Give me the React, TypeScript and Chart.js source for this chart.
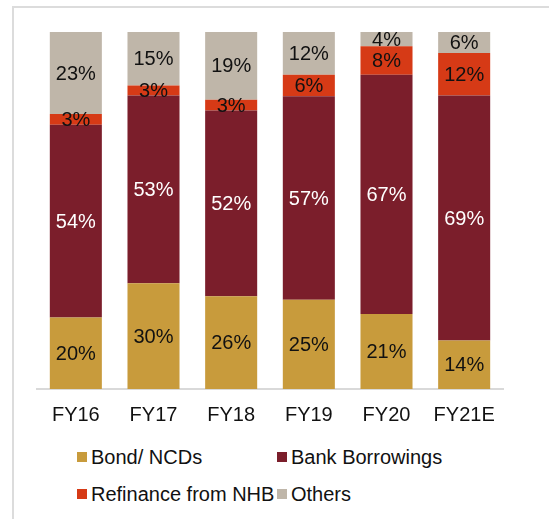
import React, { useEffect, useRef } from "react";
import { Chart, registerables } from "chart.js";

Chart.register(...registerables);

const categories = ["FY16", "FY17", "FY18", "FY19", "FY20", "FY21E"];
const bondNCDs = [20, 29.6, 26, 25, 21, 13.6];
const bankBorrowings = [54, 52.6, 52, 57, 67, 68.6];
const refinanceNHB = [3, 2.8, 3, 6, 8, 11.9];
const others = [23, 15, 19, 12, 4, 5.9];

const seriesNames = ["Bond/ NCDs", "Bank Borrowings", "Refinance from NHB", "Others"];
const seriesColors = ["#C89B3C", "#7B1E2B", "#D63A16", "#BFB6A9"];
const labelColors = ["#111111", "#ffffff", "#111111", "#111111"];

const FONT = '"Liberation Sans", Arial, sans-serif';

const labelPlugin = {
  id: "segLabels",
  afterDatasetsDraw(chart: any) {
    const ctx = chart.ctx;
    chart.data.datasets.forEach((ds: any, i: number) => {
      const meta = chart.getDatasetMeta(i);
      meta.data.forEach((el: any, j: number) => {
        const v = ds.data[j];
        const p = el.getProps(["x", "y", "base"], true);
        ctx.save();
        ctx.font = `20px ${FONT}`;
        ctx.fillStyle = labelColors[i];
        ctx.textAlign = "center";
        ctx.textBaseline = "middle";
        ctx.fillText(Math.round(v) + "%", p.x, (p.y + p.base) / 2 + 1);
        ctx.restore();
      });
    });
  },
};

export default function App() {
  const ref = useRef<HTMLCanvasElement>(null);
  useEffect(() => {
    if (!ref.current) return;
    const values = [bondNCDs, bankBorrowings, refinanceNHB, others];
    const chart = new Chart(ref.current, {
      type: "bar",
      data: {
        labels: categories,
        datasets: values.map((d, i) => ({
          label: seriesNames[i],
          data: d,
          backgroundColor: seriesColors[i],
          borderWidth: 0,
          categoryPercentage: 1,
          barPercentage: 0.67,
        })),
      },
      options: {
        responsive: false,
        animation: false,
        devicePixelRatio: 1,
        layout: { padding: { left: 37, right: 46, top: 32, bottom: 4 } },
        plugins: { legend: { display: false }, tooltip: { enabled: false } },
        scales: {
          x: {
            stacked: true,
            grid: { display: false, drawTicks: false },
            border: { display: true, color: "#d9d9d9", width: 2 },
            ticks: { color: "#111", font: { size: 20, family: FONT }, padding: 14 },
          },
          y: { stacked: true, display: false, min: 0, max: 100 },
        },
      },
      plugins: [labelPlugin],
    });
    return () => chart.destroy();
  }, []);

  const legendItem = (i: number, left: number, top: number) => (
    <div key={i} style={{ position: "absolute", left, top, height: 22, display: "flex", alignItems: "center" }}>
      <span style={{ width: 10, height: 10, background: seriesColors[i], display: "inline-block", marginRight: 4 }} />
      <span style={{ font: `20px ${FONT}`, color: "#111", lineHeight: "22px", whiteSpace: "nowrap" }}>{seriesNames[i]}</span>
    </div>
  );

  return (
    <div style={{ position: "fixed", left: 0, top: 0, width: 549, height: 519, background: "#fff", overflow: "hidden" }}>
      <div style={{ position: "absolute", left: 12, top: 6, width: 549, height: 530, borderTop: "2px solid #dcdcdc", borderLeft: "2px solid #dcdcdc" }} />
      <canvas ref={ref} width={549} height={445} style={{ position: "absolute", left: 0, top: 0 }} />
      {legendItem(0, 77, 446)}
      {legendItem(1, 277, 446)}
      {legendItem(2, 77, 483)}
      {legendItem(3, 277, 483)}
    </div>
  );
}
